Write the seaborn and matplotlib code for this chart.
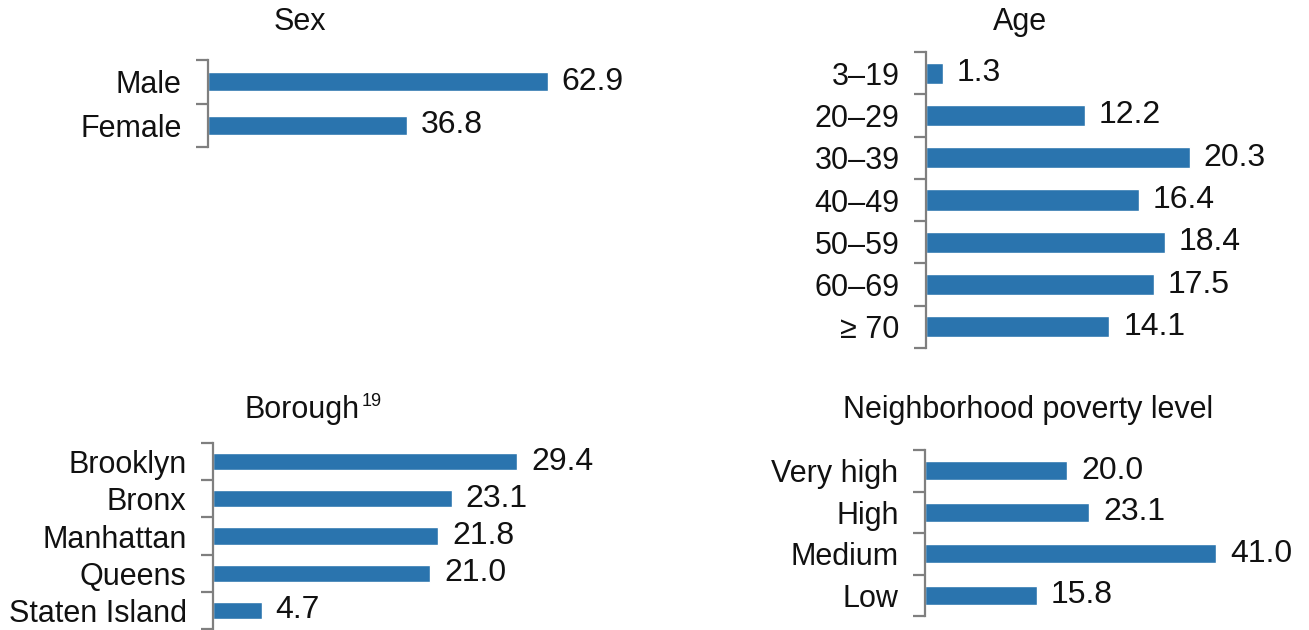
import matplotlib
matplotlib.use("Agg")
import matplotlib.pyplot as plt
import seaborn as sns
import pandas as pd
from matplotlib.ticker import FixedLocator

sns.set_theme(style="white")
plt.rcParams['font.family'] = ['Liberation Sans', 'DejaVu Sans']

sex_labels = ["Male", "Female"]
sex_values = [62.9, 36.8]

age_labels = ["3\u201319", "20\u201329", "30\u201339", "40\u201349", "50\u201359", "60\u201369", "\u2265 70"]
age_values = [1.3, 12.2, 20.3, 16.4, 18.4, 17.5, 14.1]

borough_labels = ["Brooklyn", "Bronx", "Manhattan", "Queens", "Staten Island"]
borough_values = [29.4, 23.1, 21.8, 21.0, 4.7]

poverty_labels = ["Very high", "High", "Medium", "Low"]
poverty_values = [20.0, 23.1, 41.0, 15.8]

W, H = 1309, 630
BAR = "#2a74ae"
SPINE = "#7f7f7f"
FS_TICK = 22
FS_VAL = 23
FS_TITLE = 22

fig = plt.figure(figsize=(W / 100, H / 100), dpi=100)


def px_axes(left, top, bottom, right):
    return fig.add_axes([left / W, 1 - bottom / H, (right - left) / W, (bottom - top) / H])


def panel(ax, labels, values, xmax, width):
    df = pd.DataFrame({"cat": labels, "val": values})
    sns.barplot(data=df, y="cat", x="val", orient="h", color=BAR, ax=ax,
                width=width, saturation=1, errorbar=None)
    n = len(labels)
    ax.set_xlim(0, xmax)
    ax.set_ylim(n - 0.5, -0.5)
    for c in ax.containers:
        ax.bar_label(c, labels=[f"{v:.1f}" for v in values], padding=10, fontsize=FS_VAL, color="#111111")
    ax.set_xlabel("")
    ax.set_ylabel("")
    ax.set_xticks([])
    for s in ["top", "right", "bottom"]:
        ax.spines[s].set_visible(False)
    ax.spines["left"].set_color(SPINE)
    ax.spines["left"].set_linewidth(1.6)
    ax.yaxis.set_minor_locator(FixedLocator([i - 0.5 for i in range(n + 1)]))
    ax.tick_params(axis="y", which="minor", length=9, width=1.6, color=SPINE, direction="out", left=True)
    ax.tick_params(axis="y", which="major", length=0, pad=19, labelsize=FS_TICK, labelcolor="#111111")
    ax.patch.set_alpha(0)


# Sex: axis x=208, top 60, bottom 147, scale 5.405 px/unit
ax1 = px_axes(208, 60, 147, 700)
panel(ax1, sex_labels, sex_values, (700 - 208) / 5.405, 0.44)

# Age: axis x=926, top 52, bottom 348, scale 13.0 px/unit
ax2 = px_axes(926, 52, 348, 1300)
panel(ax2, age_labels, age_values, (1300 - 926) / 13.0, 0.5)

# Borough: axis x=213, top 443, step 37.2
ax3 = px_axes(213, 443, 443 + 5 * 37.2, 700)
panel(ax3, borough_labels, borough_values, (700 - 213) / 10.34, 0.46)

# Poverty: axis x=925, top 450, bottom 616, scale 7.1 px/unit
ax4 = px_axes(925, 450, 616, 1300)
panel(ax4, poverty_labels, poverty_values, (1300 - 925) / 7.1, 0.46)

# Titles
def ftext(x, y, s, **kw):
    fig.text(x / W, 1 - y / H, s, **kw)

ftext(300, 22, "Sex", ha="center", va="center", fontsize=FS_TITLE, color="#111111")
ftext(1020, 22, "Age", ha="center", va="center", fontsize=FS_TITLE, color="#111111")
ftext(360, 410, "Borough", ha="right", va="center", fontsize=FS_TITLE, color="#111111")
ftext(362, 402, "19", ha="left", va="center", fontsize=13, color="#111111")
ftext(1028, 410, "Neighborhood poverty level", ha="center", va="center", fontsize=FS_TITLE, color="#111111")

fig.savefig("out.png", dpi=100)
